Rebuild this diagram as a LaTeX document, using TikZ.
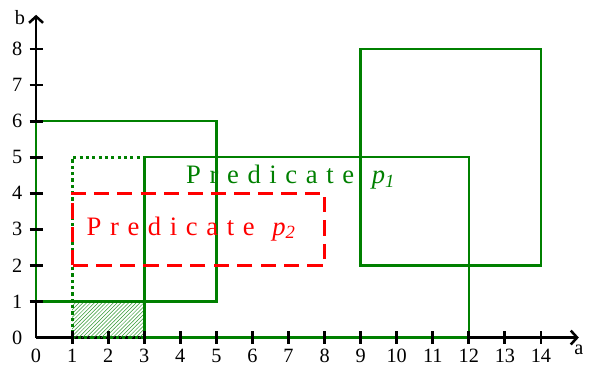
\documentclass[tikz,border=0pt]{standalone}
\usepackage{fontspec}
\setmainfont{Liberation Serif}
\usepackage{tikz}
\usetikzlibrary{arrows.meta,patterns}
\definecolor{pgreen}{RGB}{0,128,0}
\definecolor{pred}{RGB}{255,0,0}
\newcommand{\lgap}{\hspace{6.8pt}}
\tikzset{
  axisline/.style ={line width=2.2pt,-{Straight Barb[length=5pt,width=11pt,line width=2pt]}},
  tickmark/.style ={line width=2.2pt},
  ticklabel/.style={font=\fontsize{16}{18}\selectfont,inner sep=0pt},
  region/.style   ={pgreen,line width=2pt},
  dotregion/.style={pgreen,line width=2.2pt,dash pattern=on 2.5pt off 2.5pt},
  predbox/.style  ={pred,line width=2.4pt,dash pattern=on 12pt off 6.5pt},
  hatch/.style    ={pattern=north east lines,pattern color=pgreen!80},
  predlabel/.style={font=\fontsize{21}{25}\selectfont,inner sep=0pt},
}
\begin{document}
\begin{tikzpicture}
  \useasboundingbox (-1,-0.81) rectangle (15.36,9.36);
  % axes
  \draw[axisline] (0,0) -- (15.05,0);
  \draw[axisline] (0,0) -- (0,8.95);
  \node[ticklabel] (alabel) at (15.05,-0.33) {a};
  \node[ticklabel] (blabel) at (-0.45,8.86) {b};
  % regions
  \fill[hatch] (1,0) rectangle (3,1);
  \draw[region] (0,1) rectangle (5,6);
  \draw[region] (3,0) rectangle (12,5);
  \draw[region] (9,2) rectangle (14,8);
  \draw[dotregion] (3,0) -- (1,0) -- (1,5) -- (3,5);
  \draw[predbox] (1,2) rectangle (8,4);
  % ticks
  \foreach \i in {1,...,14}
    \draw[tickmark] (\i,-0.17) -- (\i,0.17);
  \foreach \j in {1,...,8}
    \draw[tickmark] (-0.18,\j) -- (0.18,\j);
  \foreach \i in {0,...,14}
    \node[ticklabel] (x\i) at (\i,-0.5) {\i};
  \foreach \j in {0,...,8}
    \node[ticklabel] (y\j) at (-0.52,\j) {\j};
  % labels
  \node[predlabel,pgreen] (p1) at (7.06,4.46)
    {P\lgap r\lgap e\lgap d\lgap i\lgap c\lgap a\lgap t\lgap e\hspace{14pt}\textit{p\textsubscript{1}}};
  \node[predlabel,pred] (p2) at (4.3,3.02)
    {P\lgap r\lgap e\lgap d\lgap i\lgap c\lgap a\lgap t\lgap e\hspace{14pt}\textit{p\textsubscript{2}}};
\end{tikzpicture}
\end{document}
